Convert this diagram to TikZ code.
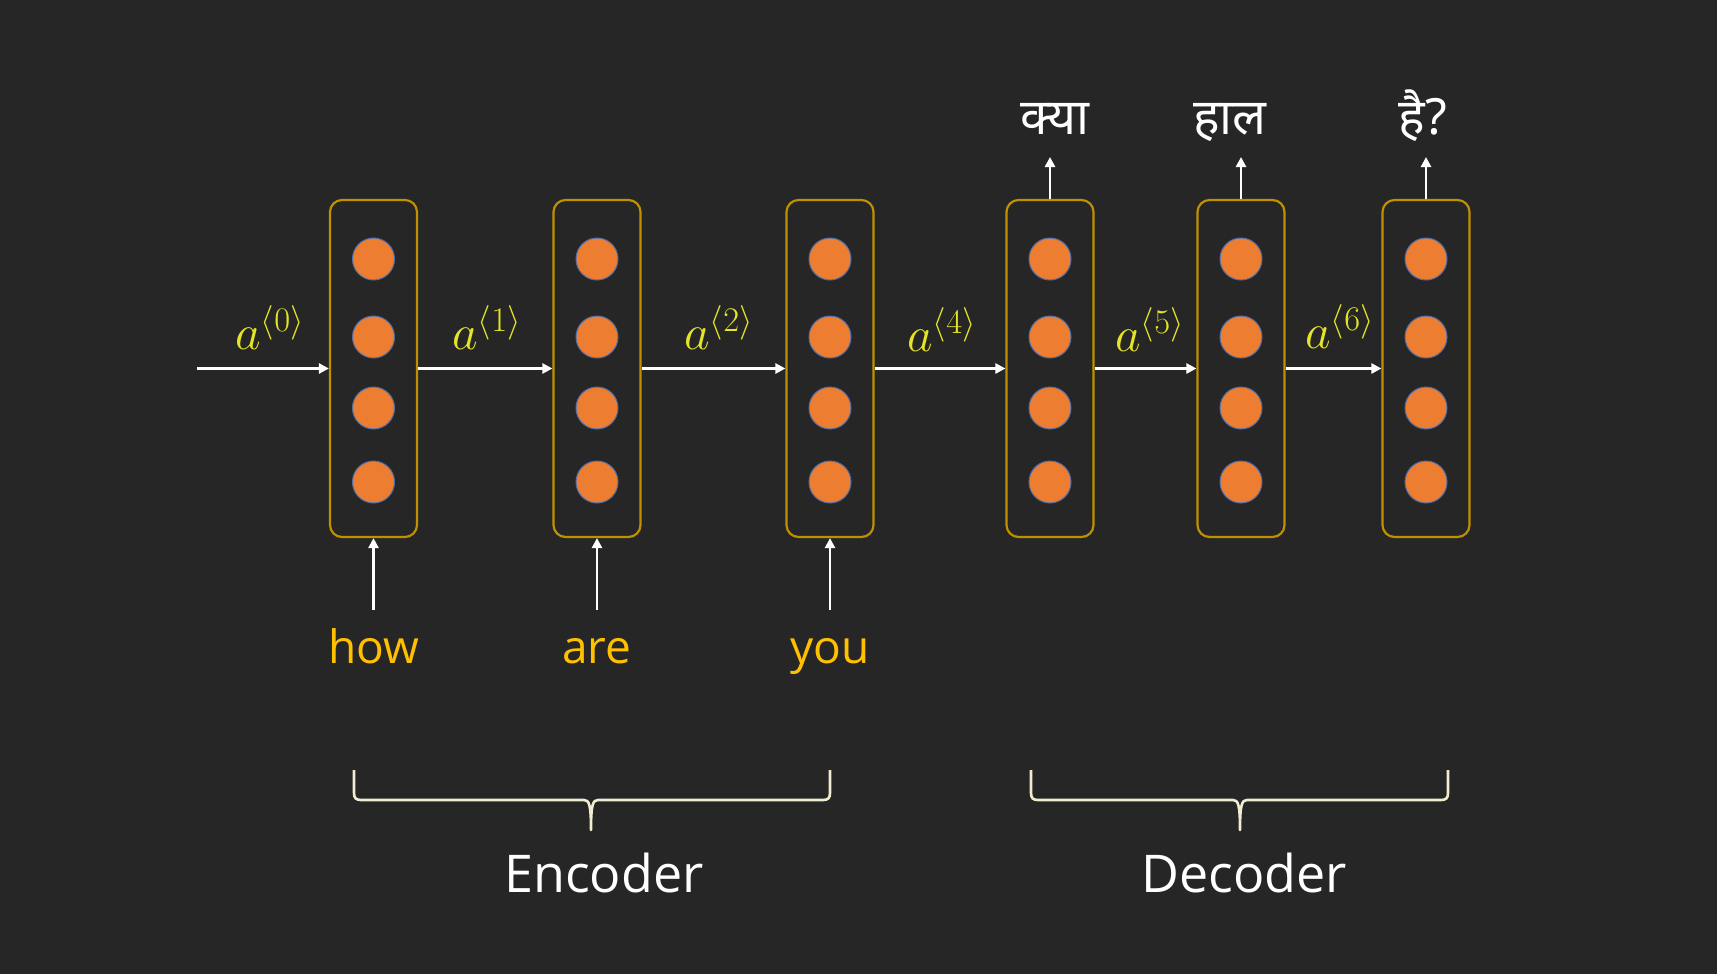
\documentclass[tikz,border=0pt]{standalone}
\usepackage{fontspec}
\setmainfont{Open Sans}
\newfontfamily\hindi[Script=Devanagari]{Noto Sans}
\usetikzlibrary{arrows.meta}
\definecolor{bg}{RGB}{38,38,38}
\definecolor{boxc}{RGB}{191,144,0}
\definecolor{dotc}{RGB}{237,125,49}
\definecolor{dotb}{RGB}{80,110,170}
\definecolor{lab}{RGB}{228,228,40}
\definecolor{word}{RGB}{255,192,0}
\definecolor{cream}{RGB}{240,236,210}
\begin{document}
\begin{tikzpicture}[x=0.5pt,y=-0.5pt,
  cell/.style={draw=boxc,line width=1.1pt,rounded corners=6pt,fill=bg,minimum width=43.5pt,minimum height=168.5pt,inner sep=0pt},
  dot/.style={circle,fill=dotc,draw=dotb,line width=0.5pt,minimum size=21pt,inner sep=0pt},
  arr/.style={draw=white,line width=1.3pt,-{Triangle[length=5pt,width=5pt]}},
  alab/.style={text=lab,font=\fontsize{23}{26}\selectfont,inner sep=0pt},
  wordlab/.style={text=word,font=\fontsize{23}{28}\selectfont,inner sep=0pt},
  hlab/.style={text=white,font=\hindi\fontsize{25}{30}\selectfont,inner sep=0pt},
  bigl/.style={text=white,font=\fontsize{26}{31}\selectfont,inner sep=0pt},
  brace/.style={draw=cream,line width=1.3pt,line join=round}]
\fill[bg] (0,0) rectangle (1717,974);
\useasboundingbox (0,0) rectangle (1717,974);
% cells
\foreach \i/\x in {1/373.5,2/597,3/830,4/1050,5/1241,6/1426}{
  \node[cell] (b\i) at (\x,368.5) {};
  \node[dot] (d\i a) at (\x,259) {};
  \node[dot] (d\i b) at (\x,337) {};
  \node[dot] (d\i c) at (\x,408) {};
  \node[dot] (d\i d) at (\x,482) {};
}
% recurrent arrows
\coordinate (s) at (197,368.5);
\draw[arr] (s) -- (b1.west);
\draw[arr] (b1.east) -- (b2.west);
\draw[arr] (b2.east) -- (b3.west);
\draw[arr] (b3.east) -- (b4.west);
\draw[arr] (b4.east) -- (b5.west);
\draw[arr] (b5.east) -- (b6.west);
% state labels
\node[alab] (l0) at (270,328) {$a^{\langle 0\rangle}$};
\node[alab] (l1) at (487,328) {$a^{\langle 1\rangle}$};
\node[alab] (l2) at (719,328) {$a^{\langle 2\rangle}$};
\node[alab] (l4) at (942,330) {$a^{\langle 4\rangle}$};
\node[alab] (l5) at (1150,330) {$a^{\langle 5\rangle}$};
\node[alab] (l6) at (1340,327) {$a^{\langle 6\rangle}$};
% inputs
\foreach \i/\x in {1/373.5,2/597,3/830}{
  \coordinate (in\i) at (\x,610);
  \draw[arr] (in\i) -- (b\i.south);
}
\node[wordlab,anchor=base] (w1) at (373.5,663) {how};
\node[wordlab,anchor=base] (w2) at (597,663) {are};
\node[wordlab,anchor=base] (w3) at (830,663) {you};
% outputs
\foreach \i/\x in {4/1050,5/1241,6/1426}{
  \coordinate (out\i) at (\x,157);
  \draw[arr] (b\i.north) -- (out\i);
}
\node[hlab,anchor=base] (h1) at (1055,134) {क्या};
\node[hlab,anchor=base] (h2) at (1230,134) {हाल};
\node[hlab,anchor=base] (h3) at (1423,134) {है?};
% braces
\draw[brace] (354,770) -- (354,793) .. controls (354,798) and (356,800) .. (361,800) -- (584,800)
  .. controls (589,800) and (591,804) .. (591,830) .. controls (591,804) and (593,800) .. (598,800)
  -- (823,800) .. controls (828,800) and (830,798) .. (830,793) -- (830,770);
\draw[brace] (1031,770) -- (1031,793) .. controls (1031,798) and (1033,800) .. (1038,800) -- (1233,800)
  .. controls (1238,800) and (1240,804) .. (1240,830) .. controls (1240,804) and (1242,800) .. (1247,800)
  -- (1441,800) .. controls (1446,800) and (1448,798) .. (1448,793) -- (1448,770);
\node[bigl] (enc) at (604,873) {Encoder};
\node[bigl] (dec) at (1244,873) {Decoder};
\end{tikzpicture}
\end{document}
